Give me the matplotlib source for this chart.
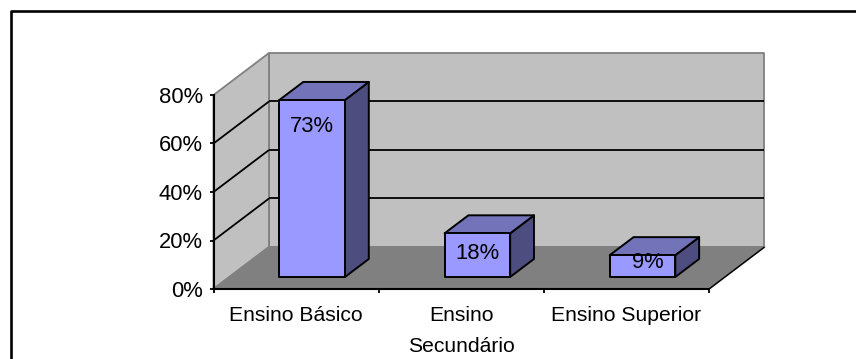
import matplotlib
matplotlib.use('Agg')
import matplotlib.pyplot as plt
from matplotlib.lines import Line2D
from matplotlib.patches import Polygon

plt.rcParams['font.family'] = ['Liberation Sans', 'DejaVu Sans']

categories = ['Ensino Básico', 'Ensino\nSecundário', 'Ensino Superior']
values = [73, 18, 9]
y_ticks = [0, 20, 40, 60, 80]

W, H = 856, 359

# how far the back wall sits from the front plane, in data units
depth_x = 0.336
depth_y = 17.32
# bar placement inside its category and along the depth
bar_left = 0.303
bar_right = 0.70
bar_front = 0.286
bar_back = 0.715
# label shift from the centre of the bar's top front edge, in points
label_shift = [(0, -19), (0, -14.5), (3.5, -5.5)]

front_col = '#9999FF'
top_col = '#7373B9'
side_col = '#4D4D80'
wall_col = '#C0C0C0'
floor_col = '#808080'


def proj(x, y, d):
    return x + d * depth_x, y + d * depth_y


def face(ax, pts, color, edge, lw, z):
    ax.add_patch(Polygon([proj(*p) for p in pts], closed=True, facecolor=color, edgecolor=edge,
                         linewidth=lw, joinstyle='round', clip_on=False, zorder=z))


def seg(ax, p0, p1, color, lw, z):
    a = proj(*p0)
    b = proj(*p1)
    ax.plot([a[0], b[0]], [a[1], b[1]], color=color, linewidth=lw, clip_on=False, zorder=z,
            solid_capstyle='butt')


fig = plt.figure(figsize=(W / 100, H / 100), dpi=100)
ax = fig.add_axes([213.5 / W, (H - 289) / H, 495.5 / W, 194 / H])
n = len(categories)
top = y_ticks[-1]
ax.set_xlim(0, n)
ax.set_ylim(0, top)
ax.patch.set_visible(False)

# walls and floor
face(ax, [(0, 0, 1), (n, 0, 1), (n, top, 1), (0, top, 1)], wall_col, floor_col, 1.3, 1)
face(ax, [(0, 0, 0), (0, 0, 1), (0, top, 1), (0, top, 0)], wall_col, floor_col, 1.3, 1)
face(ax, [(0, 0, 0), (n, 0, 0), (n, 0, 1), (0, 0, 1)], floor_col, floor_col, 1.3, 1)
seg(ax, (n, 0, 0), (n, 0, 1), 'black', 1.0, 2)

for t in y_ticks[1:-1]:
    seg(ax, (0, t, 0), (0, t, 1), 'black', 1.3, 2)
    seg(ax, (0, t, 1), (n, t, 1), 'black', 1.3, 2)

for i, v in enumerate(values):
    l = i + bar_left
    r = i + bar_right
    face(ax, [(r, 0, bar_front), (r, 0, bar_back), (r, v, bar_back), (r, v, bar_front)], side_col, 'black', 1.4, 3)
    face(ax, [(l, v, bar_front), (r, v, bar_front), (r, v, bar_back), (l, v, bar_back)], top_col, 'black', 1.4, 3)
    face(ax, [(l, 0, bar_front), (r, 0, bar_front), (r, v, bar_front), (l, v, bar_front)], front_col, 'black', 1.4, 4)
    ax.annotate(f'{v}%', xy=proj((l + r) / 2, v, bar_front), xytext=label_shift[i],
                textcoords='offset points', ha='center', va='center', fontsize=15.8, color='black',
                zorder=5, annotation_clip=False)

for s in ['top', 'right']:
    ax.spines[s].set_visible(False)
for s in ['left', 'bottom']:
    ax.spines[s].set_linewidth(1.5)
    ax.spines[s].set_zorder(6)

ax.set_yticks(y_ticks)
ax.set_yticklabels([f'{t}%' for t in y_ticks])
ax.set_xticks(range(n + 1))
ax.set_xticklabels([])
ax.set_xticks([i + 0.5 for i in range(n)], minor=True)
ax.set_xticklabels(categories, minor=True, linespacing=1.8)
ax.tick_params(axis='y', length=3.2, width=1.3, pad=4.5, labelsize=15.8)
ax.tick_params(axis='x', which='major', length=3.2, width=1.3)
ax.tick_params(axis='x', which='minor', length=0, pad=12, labelsize=15.2)

# outer frame, cut off by the right and bottom of the image
fig.add_artist(Line2D([10.5 / W, 10.5 / W, 1], [0, (H - 10.5) / H, (H - 10.5) / H], color='black', linewidth=1.9))

fig.savefig('out.png', dpi=100)
